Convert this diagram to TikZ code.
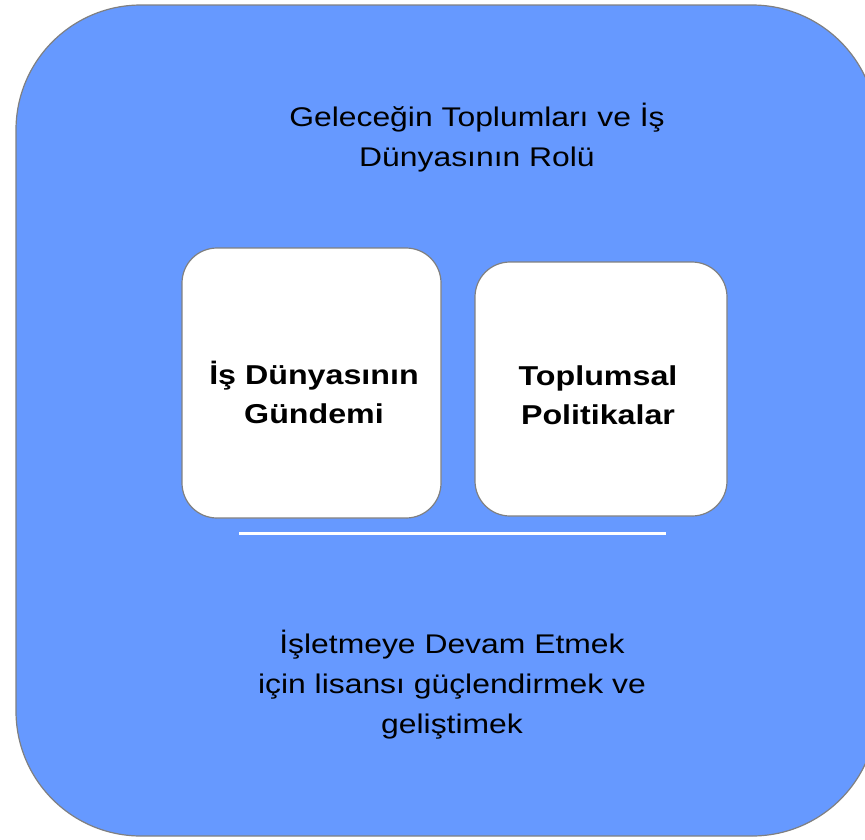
\documentclass[tikz,border=0pt]{standalone}
\usepackage{fontspec}
\setmainfont[FakeStretch=1.18]{Liberation Sans}
\definecolor{bgblue}{HTML}{6699FF}
\definecolor{edgegray}{HTML}{808080}
\tikzset{
  bigbox/.style={draw=edgegray, fill=bgblue, line width=1.2pt, rounded corners=125pt, inner sep=0pt},
  whitebox/.style={draw=edgegray, fill=white, line width=1.2pt, rounded corners=35pt, inner sep=0pt},
  boldtxt/.style={font=\fontsize{27.3}{39}\selectfont\bfseries, align=center, inner sep=0pt},
  plaintxt/.style={font=\fontsize{27}{40}\selectfont, align=center, inner sep=0pt},
  sepline/.style={white, line width=3pt}
}
\begin{document}
\begin{tikzpicture}[x=1pt,y=-1pt]
\useasboundingbox (0,0) rectangle (865,839);
\clip (0,0) rectangle (865,839);
\node[bigbox, minimum width=861pt, minimum height=831pt] (frame) at (446.5,420.5) {};
\node[plaintxt] (title) at (477,137.5) {Geleceğin Toplumları ve İş\\Dünyasının Rolü};
\node[whitebox, minimum width=259pt, minimum height=270pt] (boxa) at (311.5,383) {};
\node[whitebox, minimum width=252pt, minimum height=254pt] (boxb) at (601,389) {};
\node[boldtxt] (texta) at (314,392.5) {İş Dünyasının\\Gündemi};
\node[boldtxt] (textb) at (598,395.5) {Toplumsal\\Politikalar};
\coordinate (la) at (239,533);
\coordinate (lb) at (666,533);
\draw[sepline] (la) -- (lb);
\node[plaintxt] (bottom) at (452,685) {İşletmeye Devam Etmek\\için lisansı güçlendirmek ve\\geliştimek};
\end{tikzpicture}
\end{document}
